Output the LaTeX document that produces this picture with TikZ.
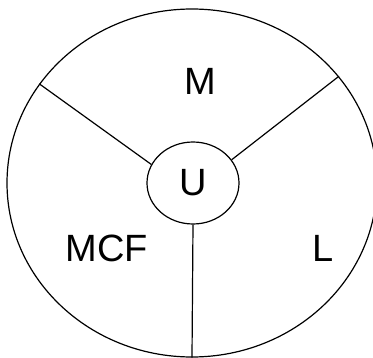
\documentclass[tikz,border=0pt]{standalone}
\usepackage{fontspec}
\setmainfont{Liberation Sans}
\usepackage{tikz}
\usetikzlibrary{positioning, shapes.geometric}

\tikzset{
  part/.style={draw, ellipse, line width=1.2pt, inner sep=0pt},
  partlabel/.style={font=\fontsize{38}{44}\selectfont}
}

\begin{document}
\begin{tikzpicture}[x=1pt, y=1pt]
    \useasboundingbox (0,0) rectangle (373,357);
    \node[part, minimum width=370pt, minimum height=348pt] (whole) at (192,174) {};
    \node[part, partlabel, minimum width=92pt, minimum height=82pt] (U) at (193,174) {U};
    \node[partlabel] (M) at (200,276) {M};
    \node[partlabel] (MCF) at (107,109) {MCF};
    \node[partlabel] (L) at (323,109) {L};
    % spokes
    \draw[line width=1.2pt] (U.156) -- (whole.147);
    \draw[line width=1.2pt] (U.31) -- (whole.36);
    \draw[line width=1.2pt] (U.south) -- (whole.south);
  \end{tikzpicture}
\end{document}
